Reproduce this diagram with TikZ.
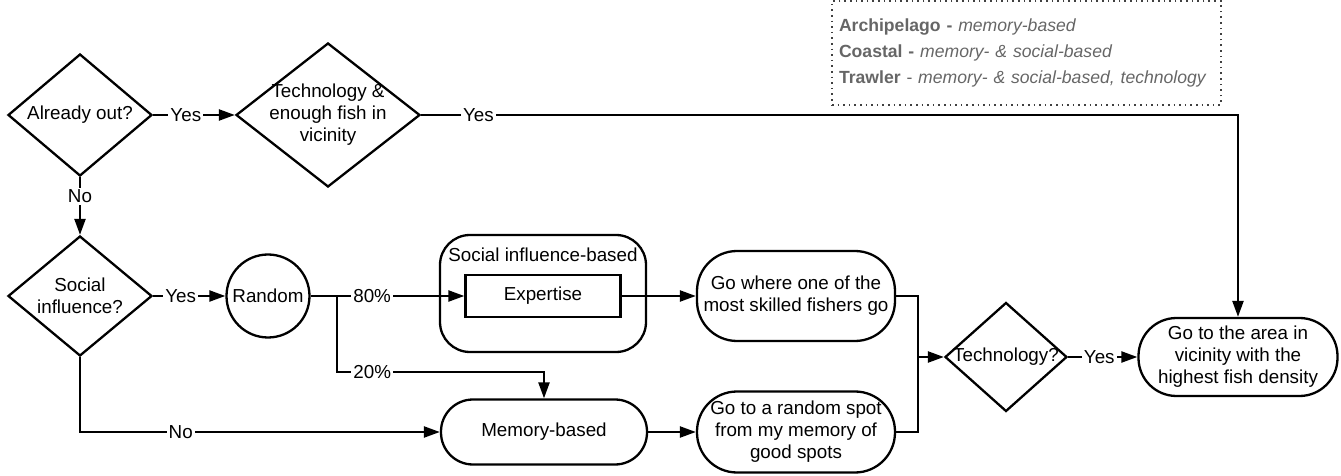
\documentclass[tikz,border=0pt]{standalone}
\usepackage{fontspec}
\setmainfont{Liberation Sans}
\usetikzlibrary{shapes.geometric,arrows.meta}

\begin{document}
\begin{tikzpicture}[x=0.5pt, y=-0.5pt, line width=1.15pt,
        >={Triangle[length=8pt,width=5.5pt]},
        every node/.style={font=\fontsize{9.4}{11}\selectfont},
        decision/.style={diamond, draw, align=center, inner sep=-2pt},
        process/.style={rectangle, draw, rounded corners=#1, align=center, inner sep=0pt},
        process/.default=20pt,
        lbl/.style={fill=white, inner sep=1pt}]

        \useasboundingbox (0,0) rectangle (1341,476);

        %-- Legend (dotted box, top right) --
        \node[draw=black!75, dotted, line width=0.8pt, text=black!60, align=left,
            text width=187.5pt, inner xsep=3.5pt, minimum height=52pt,
            font=\fontsize{8.8}{13}\selectfont] (legend) at (1026.5,53)
        {\textbf{Archipelago -} \textit{memory-based}\\
            \textbf{Coastal -} \textit{memory- \& social-based}\\
            \textbf{Trawler} - \textit{memory- \& social-based, technology}};

        %-- Decisions --
        \node[decision, minimum width=72pt, minimum height=61pt, aspect=1.18] (out) at (80,115) {Already out?};
        \node[decision, minimum width=92pt, minimum height=72pt, aspect=1.28] (techfish) at (328,115)
        {Technology \&\\enough fish in\\vicinity};
        \node[decision, minimum width=72pt, minimum height=60pt, aspect=1.2] (social) at (80,296) {Social\\influence?};
        \node[decision, minimum width=61pt, minimum height=54.5pt, aspect=1.12] (tech) at (1006,357) {Technology?};

        %-- Middle row --
        \node[circle, draw, minimum size=41.5pt, inner sep=0pt] (random) at (268,296) {Random};
        \node[process=15pt, minimum width=103pt, minimum height=58.5pt,
            label={[anchor=north, yshift=-3pt]north:Social influence-based}] (socbox) at (543,293.5) {};
        \node[draw, minimum width=77.5pt, minimum height=21pt] (expertise) at (543,296) {Expertise};
        \node[process, minimum width=99pt, minimum height=45pt] (gowhere) at (796,296)
        {Go where one of the\\most skilled fishers go};

        %-- Bottom row --
        \node[process=16pt, minimum width=103pt, minimum height=32.5pt] (memory) at (544,432) {Memory-based};
        \node[process, minimum width=99pt, minimum height=40.5pt] (gorandom) at (796,432)
        {Go to a random spot\\from my memory of\\good spots};

        %-- Goal --
        \node[process=19pt, minimum width=99.5pt, minimum height=39pt] (area) at (1238,357)
        {Go to the area in\\vicinity with the\\highest fish density};

        %-- Connectors --
        \draw[->] (out.east) -- node[lbl, pos=0.4] {Yes} (techfish.west);
        \draw[->] (techfish.east) -| node[lbl, pos=0.035] {Yes} (area.north);
        \draw[->] (out.south) -- node[lbl, pos=0.33] {No} (social.north);
        \draw[->] (social.east) -- node[lbl, pos=0.38] {Yes} (random.west);
        \draw[->] (random.east) -- node[lbl, pos=0.4] {80\%} (expertise.west);

        %-- 20% branch splits off after Random --
        \coordinate (split) at (337,296);
        \coordinate (drop) at (544,372);
        \draw[->] (split) |- node[lbl, pos=0.585] {20\%} (drop) -- (memory.north);
        \draw[->] (social.south) |- node[lbl, pos=0.64] {No} (memory.west);

        \draw[->] (expertise.east) -- (gowhere.west);
        \draw[->] (memory.east) -- (gorandom.west);

        %-- Both spots merge into the Technology? check --
        \coordinate (join) at (918,357);
        \draw (gowhere.east) -| (join);
        \draw (gorandom.east) -| (join);
        \draw[->] (join) -- (tech.west);
        \draw[->] (tech.east) -- node[lbl, pos=0.45] {Yes} (area.west);

\end{tikzpicture}
\end{document}
